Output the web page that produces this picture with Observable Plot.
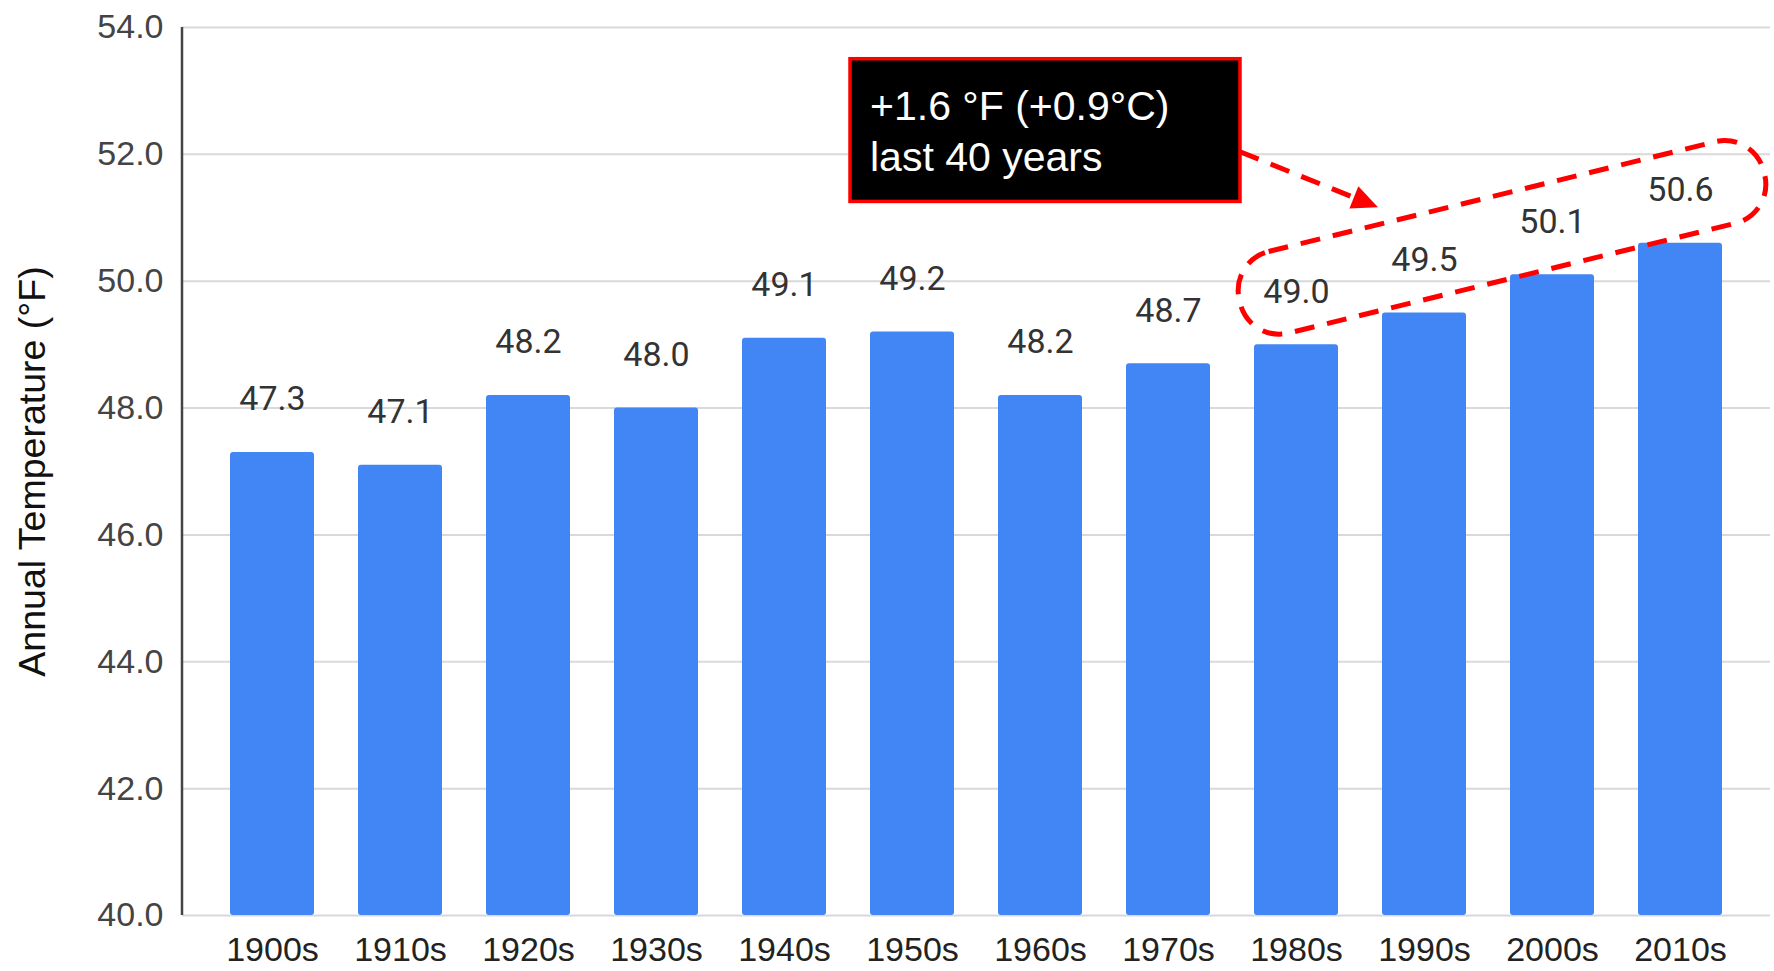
<!DOCTYPE html>
<html>
<head>
<meta charset="utf-8">
<script src="https://cdn.jsdelivr.net/npm/d3@7"></script>
<script src="https://cdn.jsdelivr.net/npm/@observablehq/plot@0.6"></script>
<style>
  html, body { margin: 0; padding: 0; background: #fff; }
  #chart svg { display: block; }
</style>
</head>
<body>
<div id="chart"></div>
<script>
// ---- data ----
const decades = ["1900s","1910s","1920s","1930s","1940s","1950s","1960s","1970s","1980s","1990s","2000s","2010s"];
const temps = [47.3, 47.1, 48.2, 48.0, 49.1, 49.2, 48.2, 48.7, 49.0, 49.5, 50.1, 50.6];
const yTicks = [40, 42, 44, 46, 48, 50, 52, 54];
const yTitle = "Annual Temperature (°F)";
const noteLines = ["+1.6 °F (+0.9°C)", "last 40 years"];
const highlightFrom = "1980s";
const highlightTo = "2010s";

const data = decades.map((d, i) => ({decade: d, temp: temps[i]}));
const fmt = d3.format(".1f");
const LABEL_DY = -53;

const chart = Plot.plot({
  width: 1774,
  height: 971,
  marginTop: 27,
  marginBottom: 56,
  marginLeft: 182,
  marginRight: 4,
  style: {fontFamily: "'Liberation Sans', Arial, sans-serif", fontSize: "34px", background: "#fff", overflow: "visible"},
  x: {domain: decades, paddingInner: 0.345, paddingOuter: 0.366, label: null},
  y: {domain: [yTicks[0], yTicks[yTicks.length - 1]], ticks: yTicks, label: null},
  marks: [
    Plot.gridY(yTicks, {stroke: "#d9d9d9", strokeOpacity: 1, strokeWidth: 2}),
    Plot.barY(data, {x: "decade", y1: yTicks[0], y2: "temp", fill: "#4285f4", rx: 3}),
    Plot.axisY({ticks: yTicks, tickSize: 0, tickPadding: 19, tickFormat: fmt, fontSize: 34, fill: "#444", label: null}),
    Plot.axisX({tickSize: 0, tickPadding: 21, fontSize: 34, fill: "#222", label: null}),
    Plot.text(data, {x: "decade", y: "temp", text: d => fmt(d.temp), dy: LABEL_DY, fontSize: 34,
      fontFamily: "Roboto, 'Liberation Sans', sans-serif", fill: "#333"}),
    Plot.text([yTitle], {frameAnchor: "left", textAnchor: "middle", rotate: -90, dx: -150, dy: 0, fontSize: 37.5, fill: "#111"})
  ]
});
document.getElementById("chart").appendChild(chart);

// ---- annotations placed from the chart's own scales ----
const xs = chart.scale("x"), ys = chart.scale("y");
const bw = xs.bandwidth;
const svg = d3.select(chart);
const red = "#ff0000";

// left axis line
const [yBottom, yTop] = ys.range;
svg.append("line")
  .attr("x1", xs.range[0]).attr("x2", xs.range[0])
  .attr("y1", yTop).attr("y2", yBottom)
  .attr("stroke", "#444").attr("stroke-width", 2.5);

function labelCenter(dec) {
  const v = temps[decades.indexOf(dec)];
  return [xs.apply(dec) + bw / 2, ys.apply(v) + LABEL_DY];
}
const p1 = labelCenter(highlightFrom), p2 = labelCenter(highlightTo);
const ang = Math.atan2(p2[1] - p1[1], p2[0] - p1[0]) * 180 / Math.PI + 1;
const cx = (p1[0] + p2[0]) / 2 + 14, cy = (p1[1] + p2[1]) / 2 - 3;
const L = 540, H = 84;
svg.append("rect")
  .attr("x", -L / 2).attr("y", -H / 2).attr("width", L).attr("height", H)
  .attr("rx", 40).attr("ry", 40)
  .attr("transform", `translate(${cx},${cy}) rotate(${ang})`)
  .attr("fill", "none").attr("stroke", red).attr("stroke-width", 5)
  .attr("stroke-dasharray", "20 13");

// note box
const bx0 = xs.apply("1950s") - 20, bx1 = xs.apply(highlightFrom) - 14;
const by0 = ys.apply(53.5), by1 = ys.apply(51.25);
svg.append("rect")
  .attr("x", bx0).attr("y", by0).attr("width", bx1 - bx0).attr("height", by1 - by0)
  .attr("fill", "#000").attr("stroke", red).attr("stroke-width", 3.5);
noteLines.forEach((t, i) => {
  svg.append("text")
    .attr("x", bx0 + 20).attr("y", by0 + 61 + i * 51)
    .attr("text-anchor", "start")
    .attr("fill", "#fff").attr("font-size", 41)
    .attr("font-family", "'Liberation Sans', Arial, sans-serif")
    .text(t);
});

// dashed arrow from box to ellipse
const a0 = [bx1, by0 + 93];
const tip = [p1[0] + 82, p1[1] - 84];
const dx = tip[0] - a0[0], dy = tip[1] - a0[1];
const len = Math.hypot(dx, dy), ux = dx / len, uy = dy / len;
const headL = 26, headW = 12;
const base = [tip[0] - ux * headL, tip[1] - uy * headL];
svg.append("line")
  .attr("x1", a0[0]).attr("y1", a0[1]).attr("x2", base[0]).attr("y2", base[1])
  .attr("stroke", red).attr("stroke-width", 5).attr("stroke-dasharray", "20 13");
svg.append("path")
  .attr("d", `M${tip[0]},${tip[1]} L${base[0] - uy * headW},${base[1] + ux * headW} L${base[0] + uy * headW},${base[1] - ux * headW} Z`)
  .attr("fill", red);
</script>
</body>
</html>
